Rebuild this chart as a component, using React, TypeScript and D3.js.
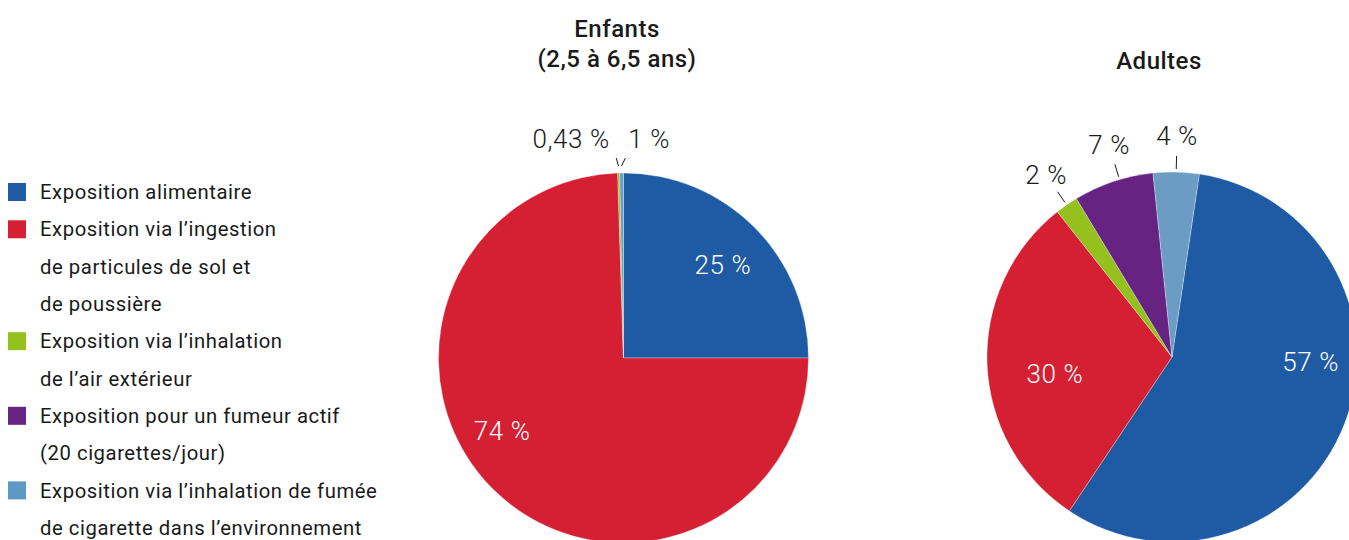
import React from "react";
import * as d3 from "d3";

const categories = [
  "Exposition alimentaire",
  "Exposition via l’ingestion de particules de sol et de poussière",
  "Exposition via l’inhalation de l’air extérieur",
  "Exposition pour un fumeur actif (20 cigarettes/jour)",
  "Exposition via l’inhalation de fumée de cigarette dans l’environnement",
];
const legendLines = [
  ["Exposition alimentaire"],
  ["Exposition via l’ingestion", "de particules de sol et", "de poussière"],
  ["Exposition via l’inhalation", "de l’air extérieur"],
  ["Exposition pour un fumeur actif", "(20 cigarettes/jour)"],
  ["Exposition via l’inhalation de fumée", "de cigarette dans l’environnement"],
];
const colors = ["#1f5aa5", "#d51f32", "#95c11f", "#662382", "#6c9bc4"];
const legendColors = ["#1f5aa5", "#d51f32", "#95c11f", "#662382", "#5e98c4"];

// Enfants: alimentaire, ingestion, air, fumeur (none), fumée (slice sizes as drawn)
const childValues = [25, 74.5, 0.17, 0, 0.33];
const childLabels = ["25 %", "74 %", "0,43 %", "", "1 %"];
// Adultes
const adultValues = [57, 30, 2, 7, 4];
const adultLabels = ["57 %", "30 %", "2 %", "7 %", "4 %"];

const W = 1349;
const H = 540;
const R = 185;
const FONT = "Roboto, 'DejaVu Sans', sans-serif";

type LabelCfg = {
  inside: boolean; angleNudge?: number; rf?: number; dx?: number; anchor?: string; lineDx?: number;
  r1?: number; r2?: number; rt?: number;
};

function Pie({ cx, cy, values, labels, startDeg, cfg }: {
  cx: number; cy: number; values: number[]; labels: string[]; startDeg: number; cfg: (LabelCfg | null)[];
}) {
  const start = (startDeg * Math.PI) / 180;
  const pie = d3.pie<number>().sort(null).value((d) => d).startAngle(start).endAngle(start + 2 * Math.PI);
  const arcs = pie(values);
  const arc = d3.arc<d3.PieArcDatum<number>>().innerRadius(0).outerRadius(R);
  return (
    <g transform={`translate(${cx},${cy})`}>
      {arcs.map((a, i) =>
        a.value > 0 ? (
          <path key={i} d={arc(a) || ""} fill={colors[i]} stroke="#fff" strokeWidth={0.3} />
        ) : null
      )}
      {arcs.map((a, i) => {
        const c = cfg[i];
        if (!c || !labels[i]) return null;
        const mid = (a.startAngle + a.endAngle) / 2 + ((c.angleNudge || 0) * Math.PI) / 180;
        const sx = Math.sin(mid);
        const sy = -Math.cos(mid);
        if (c.inside) {
          const r = R * (c.rf || 0.74);
          return (
            <text key={"l" + i} x={sx * r} y={sy * r} dy="0.35em" textAnchor="middle" fill="#fff"
              fontSize={26} fontWeight={300} letterSpacing={0.6} fontFamily={FONT}>
              {labels[i]}
            </text>
          );
        }
        const r1 = R + (c.r1 ?? 3);
        const r2 = R + (c.r2 ?? 16);
        const rt = R + (c.rt ?? 36);
        return (
          <g key={"l" + i}>
            <line x1={sx * r1} y1={sy * r1} x2={sx * r2 + (c.lineDx || 0)} y2={sy * r2} stroke="#1a1a1a" strokeWidth={1} />
            <text x={sx * rt + (c.dx || 0)} y={sy * rt} dy="0.35em" textAnchor={c.anchor || "middle"} fill="#1a1a1a"
              fontSize={26} fontWeight={300} letterSpacing={0.6} fontFamily={FONT}>
              {labels[i]}
            </text>
          </g>
        );
      })}
    </g>
  );
}

export default function App() {
  const rowStep = 37.3;
  let row = 0;
  const legend = legendLines.map((lines, i) => {
    const first = row;
    row += lines.length;
    return (
      <g key={i}>
        <rect x={8} y={192 + first * rowStep - 9} width={18} height={18} fill={legendColors[i]}>
          <title>{categories[i]}</title>
        </rect>
        {lines.map((t, j) => (
          <text key={j} x={40} y={192 + (first + j) * rowStep} dy="0.35em" fontSize={20.3}
            letterSpacing={0.55} fontFamily={FONT} fill="#1a1a1a">
            {t}
          </text>
        ))}
      </g>
    );
  });

  return (
    <svg width={W} height={H} style={{ position: "absolute", left: 0, top: 0, background: "#fff" }}>
      {legend}
      <text x={617} y={37} textAnchor="middle" fontSize={24} fontWeight={500} letterSpacing={0.5} fontFamily={FONT} fill="#1a1a1a">Enfants</text>
      <text x={617} y={67} textAnchor="middle" fontSize={24} fontWeight={500} letterSpacing={0.5} fontFamily={FONT} fill="#1a1a1a">(2,5 à 6,5 ans)</text>
      <text x={1159} y={69} textAnchor="middle" fontSize={24} fontWeight={500} letterSpacing={0.5} fontFamily={FONT} fill="#1a1a1a">Adultes</text>
      <Pie cx={623.5} cy={358} values={childValues} labels={childLabels} startDeg={0}
        cfg={[
          { inside: true, rf: 0.735, angleNudge: 2 },
          { inside: true, rf: 0.765, angleNudge: 15 },
          { inside: false, anchor: "end", dx: -8, r1: 7, r2: 15, rt: 34, lineDx: -2 },
          null,
          { inside: false, anchor: "start", dx: 7, r1: 7, r2: 15, rt: 34, lineDx: 4 },
        ]} />
      <Pie cx={1172} cy={357} values={adultValues} labels={adultLabels} startDeg={8.5}
        cfg={[
          { inside: true, rf: 0.75, angleNudge: -19 },
          { inside: true, rf: 0.64, angleNudge: -6 },
          { inside: false },
          { inside: false, angleNudge: 2 },
          { inside: false },
        ]} />
    </svg>
  );
}
